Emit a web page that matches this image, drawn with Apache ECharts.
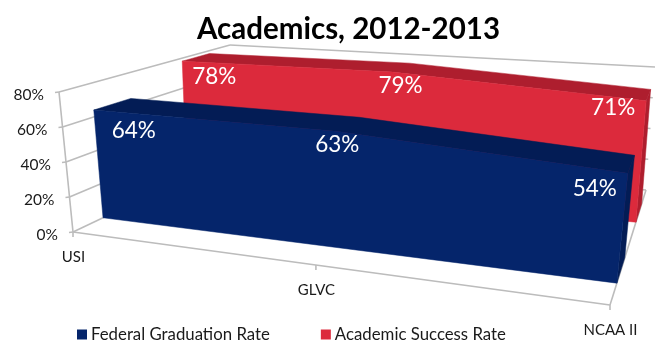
<!DOCTYPE html>
<html>
<head>
<meta charset="utf-8">
<style>html,body{margin:0;padding:0;background:#fff}#chart{width:660px;height:341px}</style>
<script src="https://cdn.jsdelivr.net/npm/echarts@6/dist/echarts.min.js"></script>
</head>
<body>
<div id="chart"></div>
<script>
// Chart values
const categories = ['USI', 'GLVC', 'NCAA II'];
const federalGraduationRate = [64, 63, 54];
const academicSuccessRate = [78, 79, 71];
const valueTicks = [0, 20, 40, 60, 80];

// Box corners in page pixels, floor and ceiling, front and back
const BOX = {
  frontLeft:  { floor: [73, 232],  top: [59, 92] },
  frontRight: { floor: [610, 305], top: [628, 133] },
  backLeft:   { floor: [231, 157], top: [230, 45] },
  backRight:  { floor: [646, 190], top: [655, 67] }
};
const WIDTH_FORESHORTENING = 0.826;
const FONT = 'Lato, "Open Sans", sans-serif';
const GRID_LINE = '#bcbcbc';

const lerp = (a, b, t) => a + (b - a) * t;
const lerp2 = (p, q, t) => [lerp(p[0], q[0], t), lerp(p[1], q[1], t)];

// Maps normalised across/depth/height onto the box, with perspective across the width
function project(across, depth, height) {
  const w = WIDTH_FORESHORTENING;
  const s = w * across / (1 - across + w * across);
  const wall = c => lerp2(c.floor, c.top, height);
  const front = lerp2(wall(BOX.frontLeft), wall(BOX.frontRight), s);
  const back = lerp2(wall(BOX.backLeft), wall(BOX.backRight), s);
  return lerp2(front, back, depth);
}

// Normalises the library's scale output against the cartesian rectangle
function normalised(api, params, catIndex, value) {
  const c = api.coord([catIndex, value]);
  const r = params.coordSys;
  return [(c[0] - r.x) / r.width, (r.y + r.height - c[1]) / r.height];
}

const poly = (points, fill) => ({
  type: 'polygon',
  shape: { points },
  style: { fill, stroke: fill, lineWidth: 0.5 }
});
const line = (p, q) => ({
  type: 'line',
  shape: { x1: p[0], y1: p[1], x2: q[0], y2: q[1] },
  style: { stroke: GRID_LINE, lineWidth: 1.6 }
});
const text = (str, p, font, fill, align) => ({
  type: 'text',
  z2: 10,
  style: { text: str, x: p[0], y: p[1], font, fill, align: align || 'center', verticalAlign: 'middle' }
});

// One extruded ribbon: top face, front face and end cap, with a value label per point
function ribbonRenderer(values, depthFront, depthBack, front, topFace, labelOffsets) {
  return function (params, api) {
    const i = params.dataIndex;
    const [a0, h0] = normalised(api, params, i, api.value(1));
    const children = [];
    if (i === 0) {
      const pts = values.map((v, k) => normalised(api, params, k, v));
      const frontEdge = pts.map(n => project(n[0], depthFront, n[1]));
      const backEdge = pts.map(n => project(n[0], depthBack, n[1]));
      const floorEnds = [project(pts[pts.length - 1][0], depthFront, 0), project(pts[0][0], depthFront, 0)];
      const end = pts[pts.length - 1];
      children.push(poly(frontEdge.concat(backEdge.slice().reverse()), topFace));
      children.push(poly([project(end[0], depthFront, 0), project(end[0], depthBack, 0),
        project(end[0], depthBack, end[1]), project(end[0], depthFront, end[1])], topFace));
      children.push(poly(frontEdge.concat(floorEnds), front));
    }
    const anchor = project(a0, depthFront, h0);
    const off = labelOffsets[i];
    children.push(text(api.value(1) + '%', [anchor[0] + off[0], anchor[1] + off[1]], '22.5px ' + FONT, '#ffffff'));
    return { type: 'group', children };
  };
}

// Walls, floor lines, ticks and the value labels on the slanted axis
function frameRenderer(params, api) {
  const h = normalised(api, params, 0, api.value(0))[1];
  const children = [
    line(project(0, 0, h), project(0, 1, h)),
    line(project(0, 1, h), project(1, 1, h))
  ];
  const p = project(0, 0, h);
  children.push(line(p, [p[0] - 4, p[1] + 0.5]));
  children.push(text(api.value(0) + '%', [p[0] - 15, p[1] + 3], '15.5px ' + FONT, '#1a1a1a', 'right'));
  if (params.dataIndex === 0) {
    children.push(line(project(0, 0, 0), project(0, 0, 1)));
    children.push(line(project(0, 0, 0), project(1, 0, 0)));
    children.push(line(project(1, 0, 0), project(1, 1, 0)));
  }
  return { type: 'group', children };
}

function categoryRenderer(params, api) {
  const a = normalised(api, params, params.dataIndex, 0)[0];
  const p = project(a, 0, 0);
  return {
    type: 'group',
    children: [
      line(p, [p[0], p[1] + 5]),
      text(categories[params.dataIndex], [p[0] + 0.5, p[1] + 25.5], '15px ' + FONT, '#1a1a1a')
    ]
  };
}

const chart = echarts.init(document.getElementById('chart'), null, { renderer: 'canvas' });
chart.setOption({
  animation: false,
  backgroundColor: '#ffffff',
  title: {
    text: 'Academics, 2012-2013',
    left: 343.5,
    top: 9,
    textAlign: 'center',
    textStyle: { fontFamily: FONT, fontSize: 29.5, fontWeight: 'bold', color: '#000000' }
  },
  legend: {
    left: 72,
    top: 321,
    itemWidth: 10,
    itemHeight: 10,
    itemGap: 51,
    icon: 'rect',
    data: ['Federal Graduation Rate', 'Academic Success Rate'],
    textStyle: { fontFamily: FONT, fontSize: 16.8, color: '#1a1a1a', padding: [0, 0, 0, -1] }
  },
  grid: { left: 0, top: 0, width: 660, height: 341 },
  xAxis: { type: 'category', data: categories, boundaryGap: false, show: false },
  yAxis: { type: 'value', min: 0, max: 80, interval: 20, show: false },
  series: [
    {
      name: 'frame', type: 'custom', z: 1, silent: true, clip: false,
      coordinateSystem: 'cartesian2d',
      encode: { x: 1, y: 0 },
      data: valueTicks.map(v => [v, 0]),
      renderItem: frameRenderer
    },
    {
      name: 'categories', type: 'custom', z: 1, silent: true, clip: false,
      data: categories.map((c, i) => [i, 0]),
      renderItem: categoryRenderer
    },
    {
      name: 'Academic Success Rate', type: 'custom', z: 2, silent: true, clip: false,
      itemStyle: { color: '#dc2a3c' },
      data: academicSuccessRate.map((v, i) => [i, v]),
      renderItem: ribbonRenderer(academicSuccessRate, 0.72, 0.88, '#dc2a3c', '#ae1e2e',
        [[32, 16], [8, 14], [-33, 7]])
    },
    {
      name: 'Federal Graduation Rate', type: 'custom', z: 3, silent: true, clip: false,
      itemStyle: { color: '#05256b' },
      data: federalGraduationRate.map((v, i) => [i, v]),
      renderItem: ribbonRenderer(federalGraduationRate, 0.19, 0.41, '#05256b', '#031c55',
        [[40, 21], [1, 13], [-33, 15]])
    }
  ]
});
</script>
</body>
</html>
